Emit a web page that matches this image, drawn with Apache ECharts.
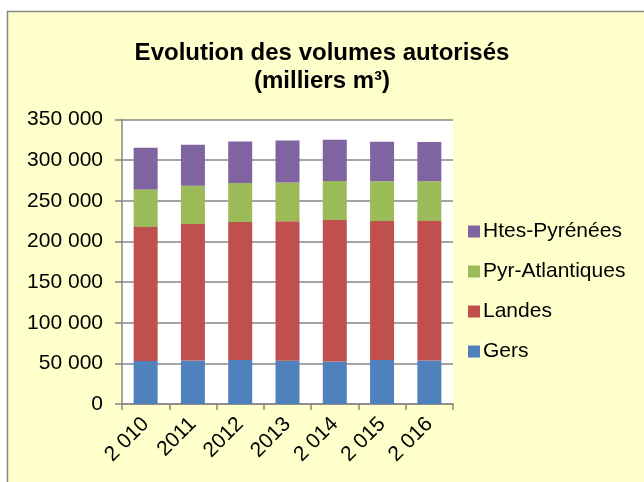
<!DOCTYPE html>
<html>
<head>
<meta charset="utf-8">
<style>
  html, body { margin: 0; padding: 0; background: #ffffff; }
  #chart { width: 644px; height: 482px; }
</style>
<script src="https://cdn.jsdelivr.net/npm/echarts@6/dist/echarts.min.js"></script>
</head>
<body>
<div id="chart"></div>
<script>
const categories = ['2 010', '2011', '2012', '2013', '2 014', '2 015', '2 016'];
const seriesNames = ['Gers', 'Landes', 'Pyr-Atlantiques', 'Htes-Pyrénées'];
const gers = [52800, 53600, 54000, 53200, 52400, 54000, 53600];
const landes = [164900, 167800, 169900, 171500, 174000, 171100, 171500];
const pyrAtlantiques = [46300, 47200, 47900, 47900, 47900, 48800, 48800];
const htesPyrenees = [51200, 50300, 51200, 51600, 50700, 48700, 48300];
const colors = ['#4F81BD', '#C0504D', '#9BBB59', '#8064A2'];

const FONT = "'Liberation Sans', Arial, sans-serif";
const values = [gers, landes, pyrAtlantiques, htesPyrenees];

const chart = echarts.init(document.getElementById('chart'), null, { renderer: 'canvas' });

function fmt(v) {
  return String(v).replace(/\B(?=(\d{3})+(?!\d))/g, ' ');
}

chart.setOption({
  animation: false,
  backgroundColor: '#ffffff',
  graphic: [{
    type: 'rect',
    z: -10,
    silent: true,
    shape: { x: 7.5, y: 11.5, width: 700, height: 500 },
    style: { fill: '#FFFFCC', stroke: '#868686', lineWidth: 1.5 }
  }],
  title: {
    text: 'Evolution des volumes autorisés\n(milliers m³)',
    left: 'center',
    top: 34,
    padding: [5, 0, 5, 12],
    textStyle: {
      fontFamily: FONT,
      fontSize: 24,
      fontWeight: 'bold',
      color: '#000000',
      lineHeight: 28
    }
  },
  legend: {
    orient: 'vertical',
    left: 463,
    top: 216,
    data: ['Htes-Pyrénées', 'Pyr-Atlantiques', 'Landes', 'Gers'],
    itemWidth: 12,
    itemHeight: 12,
    itemGap: 19,
    icon: 'rect',
    textStyle: { fontFamily: FONT, fontSize: 21, color: '#000000', lineHeight: 20, padding: [0, 0, 0, -2] }
  },
  grid: {
    left: 122,
    right: 191,
    top: 119.5,
    bottom: 78,
    show: true,
    backgroundColor: '#ffffff',
    borderWidth: 0
  },
  xAxis: {
    type: 'category',
    data: categories,
    axisLine: { show: true, lineStyle: { color: '#868686', width: 1.5 } },
    axisTick: { show: true, length: 6, lineStyle: { color: '#868686', width: 1.5 } },
    axisLabel: {
      rotate: 45,
      margin: 17,
      fontFamily: FONT,
      fontSize: 21,
      color: '#000000'
    }
  },
  yAxis: {
    type: 'value',
    min: 0,
    max: 350000,
    interval: 50000,
    axisLine: { show: true, lineStyle: { color: '#868686', width: 1.5 } },
    axisTick: { show: true, inside: false, length: 7, lineStyle: { color: '#868686', width: 1.5 } },
    splitLine: { show: true, lineStyle: { color: '#868686', width: 1.5 } },
    axisLabel: {
      margin: 19,
      fontFamily: FONT,
      fontSize: 21,
      color: '#000000',
      formatter: fmt
    }
  },
  series: seriesNames.map((name, i) => ({
    name: name,
    type: 'bar',
    stack: 'total',
    barWidth: 24,
    data: values[i],
    itemStyle: { color: colors[i] }
  }))
});
</script>
</body>
</html>
